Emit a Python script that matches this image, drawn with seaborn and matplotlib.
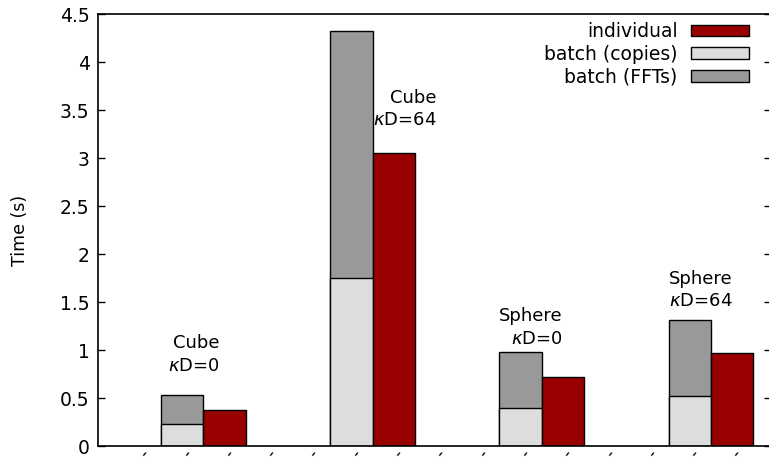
import numpy as np
import pandas as pd
import matplotlib.pyplot as plt
import seaborn as sns
from matplotlib.patches import Patch
from matplotlib.ticker import FormatStrFormatter

# values (seconds)
cases = ['Cube\n$\\kappa$D=0', 'Cube\n$\\kappa$D=64', 'Sphere\n$\\kappa$D=0', 'Sphere\n$\\kappa$D=64']
batch_copies = [0.23, 1.75, 0.40, 0.52]
batch_ffts = [0.30, 2.57, 0.58, 0.79]
individual = [0.375, 3.05, 0.715, 0.97]
yticks = [0, 0.5, 1, 1.5, 2, 2.5, 3, 3.5, 4, 4.5]

# 4 slots per cluster: batch, individual, gap, gap
slots = [f's{i}' for i in range(14)]
batch_slots = [slots[4 * k] for k in range(len(cases))]
indiv_slots = [slots[4 * k + 1] for k in range(len(cases))]

df_total = pd.DataFrame({'slot': batch_slots, 'time': np.add(batch_copies, batch_ffts)})
df_copies = pd.DataFrame({'slot': batch_slots, 'time': batch_copies})
df_indiv = pd.DataFrame({'slot': indiv_slots, 'time': individual})

red = '#990000'
light = '#dddddd'
dark = '#999999'

fig = plt.figure(figsize=(7.69, 4.58), dpi=100)
ax = fig.add_axes([98 / 769, 12 / 458, 673 / 769, 432 / 458])

bar_kw = dict(x='slot', y='time', order=slots, saturation=1, width=1,
              edgecolor='black', linewidth=1, errorbar=None, ax=ax)
sns.barplot(data=df_total, color=dark, **bar_kw)
sns.barplot(data=df_copies, color=light, **bar_kw)
sns.barplot(data=df_indiv, color=red, **bar_kw)

# case labels, right aligned above each cluster
label_pos = [(0.89, 0.95), (6.02, 3.51), (9.0, 1.23), (13.0, 1.625)]
for txt, (lx, ly) in zip(cases, label_pos):
    ax.text(lx, ly, txt, ha='right', va='center', multialignment='right',
            fontsize=13, linespacing=1.35)

ax.set_xlim(-1.99, 13.92)
ax.set_ylim(0, 4.5)
ax.set_yticks(yticks)
ax.yaxis.set_major_formatter(FormatStrFormatter('%g'))
ax.tick_params(axis='y', direction='in', length=5, width=1, right=True, labelsize=13.5, pad=6)

xt = [-0.875 + i for i in range(15)]
ax.set_xticks(xt)
ax.set_xticklabels(['\u2013'] * len(xt), rotation=50, fontsize=7.5, fontweight='bold')
ax.tick_params(axis='x', length=0, pad=2)

ax.set_xlabel('')
ax.set_ylabel('Time (s)', fontsize=12.5)
ax.yaxis.set_label_coords(-0.103, 0.5)
for sp in ax.spines.values():
    sp.set_linewidth(1.2)
ax.spines['right'].set_visible(False)

handles = [Patch(facecolor=red, edgecolor='black', linewidth=1),
           Patch(facecolor=light, edgecolor='black', linewidth=1),
           Patch(facecolor=dark, edgecolor='black', linewidth=1)]
fig.legend(handles, ['individual', 'batch (copies)', 'batch (FFTs)'],
           loc='upper right', bbox_to_anchor=(749 / 769, 1 - 22 / 458),
           frameon=False, markerfirst=False, fontsize=13.5,
           handlelength=3.1, handleheight=0.58, handletextpad=0.7,
           labelspacing=0.2, borderpad=0, borderaxespad=0)

fig.savefig('out.png', dpi=100)
